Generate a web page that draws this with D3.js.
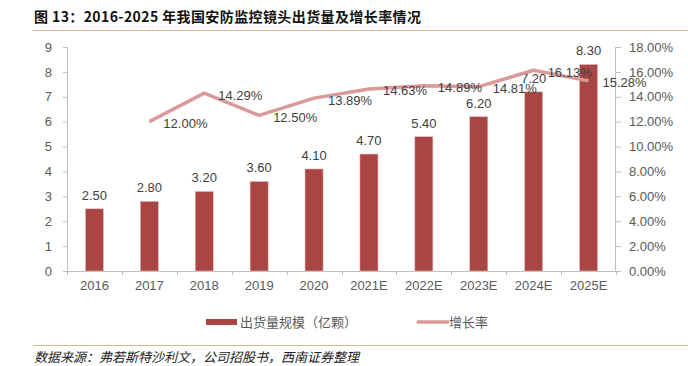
<!DOCTYPE html>
<html><head><meta charset="utf-8">
<script src="https://cdn.jsdelivr.net/npm/d3@7"></script>
<style>
html,body{margin:0;padding:0;background:#fff;}
svg text{font-family:"Liberation Sans",Arial,"Noto Sans CJK SC",sans-serif;}
</style></head>
<body><svg id="c" width="688" height="366"></svg>
<script>
const categories = ["2016","2017","2018","2019","2020","2021E","2022E","2023E","2024E","2025E"];
const shipments = [2.50,2.80,3.20,3.60,4.10,4.70,5.40,6.20,7.20,8.30];
const growthYears = ["2017","2018","2019","2020","2021E","2022E","2023E","2024E","2025E"];
const growth = [12.00,14.29,12.50,13.89,14.63,14.89,14.81,16.13,15.28];
const leftTicks = [0,1,2,3,4,5,6,7,8,9];
const rightTicks = [0,2,4,6,8,10,12,14,16,18];
const titleText = "图 13：2016-2025 年我国安防监控镜头出货量及增长率情况";
const sourceText = "数据来源：弗若斯特沙利文，公司招股书，西南证券整理";
const legendLabels = ["出货量规模（亿颗）","增长率"];

const barColor = "#a94644", lineColor = "#d99a99", axisColor = "#bfbfbf", textColor = "#595959";
const svg = d3.select("#c");
const L = 67, R = 616, T = 47, B = 271;

const x = d3.scaleBand().domain(categories).range([L, R]).paddingInner(0.67).paddingOuter(0.335);
const xb = d3.scaleBand().domain(categories).range([L, R]);
const y = d3.scaleLinear().domain([0, 9]).range([B, T]);
const y2 = d3.scaleLinear().domain([0, 18]).range([B, T]);

// title
svg.append("text").attr("x", 34).attr("y", 22)
  .style("font-family", "'Noto Sans CJK SC',sans-serif").style("font-weight", "bold")
  .style("font-size", "14px").style("letter-spacing", "0.4px").attr("fill", "#111").text(titleText);
svg.append("line").attr("x1", 33).attr("x2", 688).attr("y1", 30.5).attr("y2", 30.5)
  .attr("stroke", "#d7b98a").attr("stroke-width", 1.2);

// left axis
const gl = svg.append("g").attr("transform", `translate(${L},0)`)
  .call(d3.axisLeft(y).tickValues(leftTicks).tickFormat(d3.format("d")).tickSize(4).tickPadding(11));
// right axis
const gr = svg.append("g").attr("transform", `translate(${R},0)`)
  .call(d3.axisRight(y2).tickValues(rightTicks).tickFormat(d => d.toFixed(2) + "%").tickSize(5).tickPadding(8));
[gl, gr].forEach(g => {
  g.select(".domain").remove();
  g.selectAll(".tick line").attr("stroke", axisColor);
  g.selectAll(".tick text").attr("fill", textColor).style("font-size", "13px");
});
svg.append("line").attr("x1", L + 0.5).attr("x2", L + 0.5).attr("y1", T).attr("y2", B).attr("stroke", axisColor);
svg.append("line").attr("x1", R - 0.5).attr("x2", R - 0.5).attr("y1", T).attr("y2", B).attr("stroke", axisColor);

// x axis
const gx = svg.append("g").attr("transform", `translate(0,${B})`)
  .call(d3.axisBottom(xb).tickSize(0).tickPadding(10));
gx.select(".domain").attr("stroke", axisColor);
gx.selectAll(".tick text").attr("fill", textColor).style("font-size", "13px");
const bounds = categories.map(c => xb(c)).concat([xb(categories[categories.length - 1]) + xb.bandwidth()]);
svg.append("g").selectAll("line").data(bounds).join("line")
  .attr("x1", d => Math.round(d) + 0.5).attr("x2", d => Math.round(d) + 0.5)
  .attr("y1", B).attr("y2", B + 4).attr("stroke", axisColor);

// bars
svg.append("g").selectAll("rect").data(categories).join("rect")
  .attr("x", (c) => x(c)).attr("width", x.bandwidth())
  .attr("y", (c, i) => y(shipments[i])).attr("height", (c, i) => B - y(shipments[i]))
  .attr("fill", barColor).attr("stroke", "#e8c4c3").attr("stroke-width", 0.6);
svg.append("g").selectAll("text").data(categories).join("text")
  .attr("x", c => x(c) + x.bandwidth() / 2).attr("y", (c, i) => y(shipments[i]) - 9)
  .attr("text-anchor", "middle").attr("fill", "#404040").style("font-size", "13px")
  .text((c, i) => shipments[i].toFixed(2));

// line
const pts = growthYears.map((c, i) => [xb(c) + xb.bandwidth() / 2, y2(growth[i])]);
svg.append("path").attr("d", d3.line()(pts)).attr("fill", "none")
  .attr("stroke", lineColor).attr("stroke-width", 3.5).attr("stroke-linejoin", "round");
svg.append("g").selectAll("text").data(pts).join("text")
  .attr("x", d => d[0] + 14).attr("y", d => d[1] + 2).attr("dy", "0.35em")
  .attr("fill", "#404040").style("font-size", "13px")
  .text((d, i) => growth[i].toFixed(2) + "%");

// legend
const lg = svg.append("g");
lg.append("rect").attr("x", 206).attr("y", 319).attr("width", 31).attr("height", 6).attr("fill", barColor);
lg.append("text").attr("x", 240).attr("y", 322).attr("dy", "0.35em").attr("fill", textColor)
  .style("font-size", "13px").style("font-family", "'Noto Sans CJK SC',sans-serif").text(legendLabels[0]);
lg.append("line").attr("x1", 418).attr("x2", 448).attr("y1", 322).attr("y2", 322)
  .attr("stroke", lineColor).attr("stroke-width", 3.5).attr("stroke-linecap", "round");
lg.append("text").attr("x", 449).attr("y", 322).attr("dy", "0.35em").attr("fill", textColor)
  .style("font-size", "13px").style("font-family", "'Noto Sans CJK SC',sans-serif").text(legendLabels[1]);

// bottom rule + source
svg.append("line").attr("x1", 33).attr("x2", 688).attr("y1", 345.5).attr("y2", 345.5)
  .attr("stroke", "#d7b98a").attr("stroke-width", 1.2);
svg.append("text").attr("x", 34).attr("y", 362)
  .style("font-family", "'Noto Sans CJK SC',sans-serif").style("font-style", "italic")
  .style("font-size", "13px").attr("fill", "#222").text(sourceText);
</script></body></html>
